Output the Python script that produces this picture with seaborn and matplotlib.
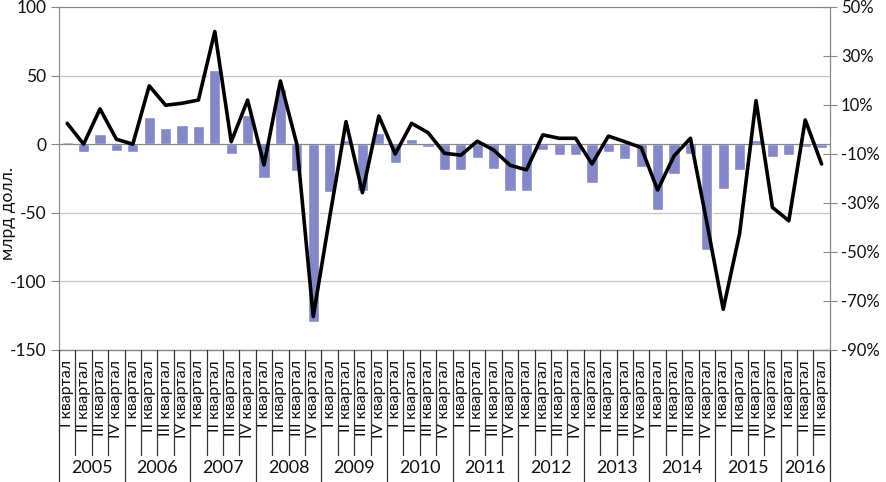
import numpy as np
import pandas as pd
import matplotlib
matplotlib.use("Agg")
import matplotlib.pyplot as plt
import matplotlib.transforms as mtransforms
import seaborn as sns

years = ["2005", "2006", "2007", "2008", "2009", "2010", "2011", "2012",
         "2013", "2014", "2015", "2016"]
quarter_names = ["I квартал", "II квартал", "III квартал", "IV квартал"]
quarters_per_year = [4, 4, 4, 4, 4, 4, 4, 4, 4, 4, 4, 3]

# bars: billion USD (left axis)
bar_values = [1.5, -5.5, 7.5, -5, -6, 20, 12, 14,
              13, 54, -7.5, 21, -25, 40, -19.5, -130,
              -35, 3, -34, 8, -14, 3.5, -2, -19,
              -19, -10, -18, -34.5, -34, -4.5, -8, -8,
              -28, -5.5, -10.5, -17, -48, -22, -7.5, -77.5,
              -33, -18.5, 3, -9, -8, -2, -3]
# line: percent (right axis)
line_values = [2.5, -6, 8.4, -4, -6, 17.8, 9.9, 10.7,
               12, 40, -5, 12, -14.5, 19.8, -6, -76.4,
               -36, 3.2, -25.8, 5.5, -10, 2.5, -1.3, -9.7,
               -10.5, -4.8, -8.4, -14.6, -16.5, -2.2, -3.6, -3.6,
               -14.1, -2.7, -5, -7.4, -24.7, -10.8, -3.6, -38,
               -73.4, -42.4, 11.8, -31.8, -37.3, 3.9, -14.1]

left_ticks = [100, 50, 0, -50, -100, -150]
left_labels = ["100", "50", "0", "-50", "-100", "-150"]
right_ticks = [50, 30, 10, -10, -30, -50, -70, -90]
right_labels = ["50%", "30%", "10%", "-10%", "-30%", "-50%", "-70%", "-90%"]
ylabel = "млрд долл."

cats, cat_q, cat_y = [], [], []
for y, nq in zip(years, quarters_per_year):
    for q in range(nq):
        cats.append(f"{quarter_names[q]} {y}")
        cat_q.append(quarter_names[q])
        cat_y.append(y)
n = len(cats)
pos = np.arange(n)
df = pd.DataFrame({"cat": cats, "bar": bar_values, "line": line_values, "pos": pos})

sns.set_style("white")
FONT = ["Lato", "DejaVu Sans"]
plt.rcParams["font.family"] = FONT

BAR_COLOR = "#8288C9"
AX_COLOR = "#868686"
GRID_COLOR = "#c4c4c4"
TXT = "#111111"

fig = plt.figure(figsize=(8.86, 4.82), dpi=100)
ax = fig.add_axes([0.0666, 0.274, 0.870, 0.7115])

sns.barplot(data=df, x="cat", y="bar", ax=ax, color=BAR_COLOR, width=0.68,
            saturation=1, zorder=2)
ax.set_xlim(-0.5, n - 0.5)
ax.set_ylim(-150, 100)
ax.set_yticks(left_ticks)
ax.set_yticklabels(left_labels, fontsize=12.5, color=TXT)
ax.set_xlabel("")
ax.set_ylabel("")
ax.yaxis.grid(True, color=GRID_COLOR, lw=0.9, zorder=0)
ax.set_axisbelow(True)
ax.tick_params(axis="y", direction="out", length=6, color=AX_COLOR, pad=3)

# category axis crosses at zero
ax.spines["bottom"].set_position(("data", 0))
ax.spines["bottom"].set_color(AX_COLOR)
ax.spines["bottom"].set_zorder(3)
ax.set_xticks(np.arange(n + 1) - 0.5)
ax.set_xticklabels([])
ax.tick_params(axis="x", direction="inout", length=9, color="#555555", width=0.9)
for s in ["left", "top", "right"]:
    ax.spines[s].set_color(AX_COLOR)
ax.axhline(-150, color=AX_COLOR, lw=1.0, clip_on=False, zorder=3)

ax2 = ax.twinx()
sns.lineplot(data=df, x="pos", y="line", ax=ax2, color="black", lw=2.6, zorder=5)
ax2.set_ylim(-90, 50)
ax2.set_yticks(right_ticks)
ax2.set_yticklabels(right_labels, fontsize=12, color=TXT)
ax2.set_ylabel("")
ax2.set_xlabel("")
ax2.tick_params(axis="y", direction="inout", length=10, color=AX_COLOR, pad=3)
for s in ax2.spines.values():
    s.set_visible(False)
ax2.spines["right"].set_visible(True)
ax2.spines["right"].set_color(AX_COLOR)
ax2.set_xlim(-0.5, n - 0.5)

# multi-level category labels below the plot
trans = mtransforms.blended_transform_factory(ax.transData, ax.transAxes)
q_bottom = -0.306
y_bottom = -0.385
for i in range(n):
    ax.text(pos[i], -0.03, cat_q[i], rotation=90, ha="center", va="top",
            fontsize=11.5, transform=trans, color=TXT)
bounds = np.arange(n + 1) - 0.5
year_starts = np.cumsum([0] + quarters_per_year)
for b_i, b in enumerate(bounds):
    y0 = y_bottom if b_i in year_starts else q_bottom
    ax.plot([b, b], [0, y0], transform=trans, color="#333333", lw=0.9,
            clip_on=False, zorder=3)
for j, y in enumerate(years):
    c = (year_starts[j] + year_starts[j + 1] - 1) / 2
    ax.text(c, -0.343, y, ha="center", va="center", fontsize=13,
            transform=trans, color=TXT)

fig.text(0.009, 1 - 213 / 482, ylabel, rotation=90, ha="center", va="center",
         fontsize=12.5, color=TXT)

fig.savefig("out.png", dpi=100)
